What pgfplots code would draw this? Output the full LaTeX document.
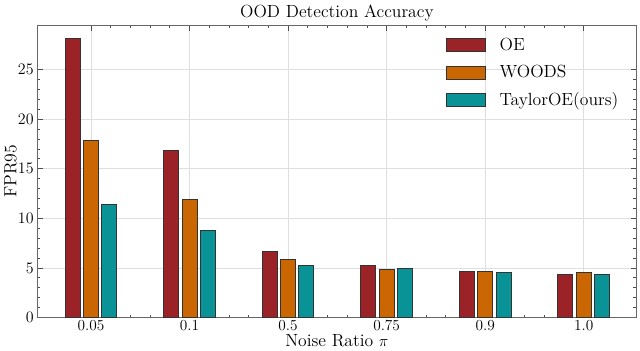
\documentclass[border=0pt]{standalone}
\usepackage{pgfplots}
\pgfplotsset{compat=1.18}

\definecolor{oecol}{HTML}{9B2226}
\definecolor{woodscol}{HTML}{CA6702}
\definecolor{taylorcol}{HTML}{0A9396}

\pgfplotstableread{
x oe woods taylor
0 28.1 17.8 11.38
1 16.8 11.93 8.73
2 6.65 5.85 5.29
3 5.22 4.86 4.93
4 4.63 4.63 4.53
5 4.33 4.50 4.33
}\fprdata

\begin{document}
\begin{tikzpicture}
\begin{axis}[
    scale only axis,
    width=448.5pt, height=219pt,
    ybar=2.5pt, bar width=11.25pt,
    xmin=-0.54, xmax=5.53,
    ymin=0, ymax=29.46,
    xtick={0,...,5},
    xticklabels={0.05,0.1,0.5,0.75,0.9,1.0},
    ytick={0,5,...,25},
    minor x tick num=4,
    minor y tick num=4,
    tick align=inside,
    xtick pos=both, ytick pos=both,
    major tick length=4pt, minor tick length=2pt,
    tick style={black!70, line width=0.5pt},
    axis line style={black!60, line width=0.6pt},
    xmajorgrids, ymajorgrids,
    major grid style={gray!25, line width=0.5pt},
    tick label style={font=\fontsize{11.5}{13}\selectfont},
    xticklabel style={yshift=1.5pt},
    yticklabel style={xshift=0.5pt},
    label style={font=\fontsize{13.2}{15}\selectfont},
    title style={font=\fontsize{13.2}{15}\selectfont, yshift=-6pt},
    title={OOD Detection Accuracy},
    xlabel={Noise Ratio $\pi$},
    ylabel={FPR95},
    xlabel style={yshift=4.5pt},
    ylabel style={yshift=-6pt},
    legend style={draw=none, fill=none, at={(0.675,0.975)}, anchor=north west,
        font=\fontsize{13.2}{15}\selectfont, row sep=5.6pt},
    legend cell align=left,
    legend image code/.code={\draw[#1] (0pt,-4.9pt) rectangle (29pt,4.9pt);
        \path[draw=none, fill=none] (0pt,0pt) -- (38pt,0pt);},
]
\addplot[fill=oecol, draw=black!80, line width=0.7pt] table[x=x, y=oe] {\fprdata};
\addplot[fill=woodscol, draw=black!80, line width=0.7pt] table[x=x, y=woods] {\fprdata};
\addplot[fill=taylorcol, draw=black!80, line width=0.7pt] table[x=x, y=taylor] {\fprdata};
\legend{OE, WOODS, TaylorOE(ours)}
\end{axis}
\path (current axis.south east) ++(3pt,0pt);
\end{tikzpicture}
\end{document}
